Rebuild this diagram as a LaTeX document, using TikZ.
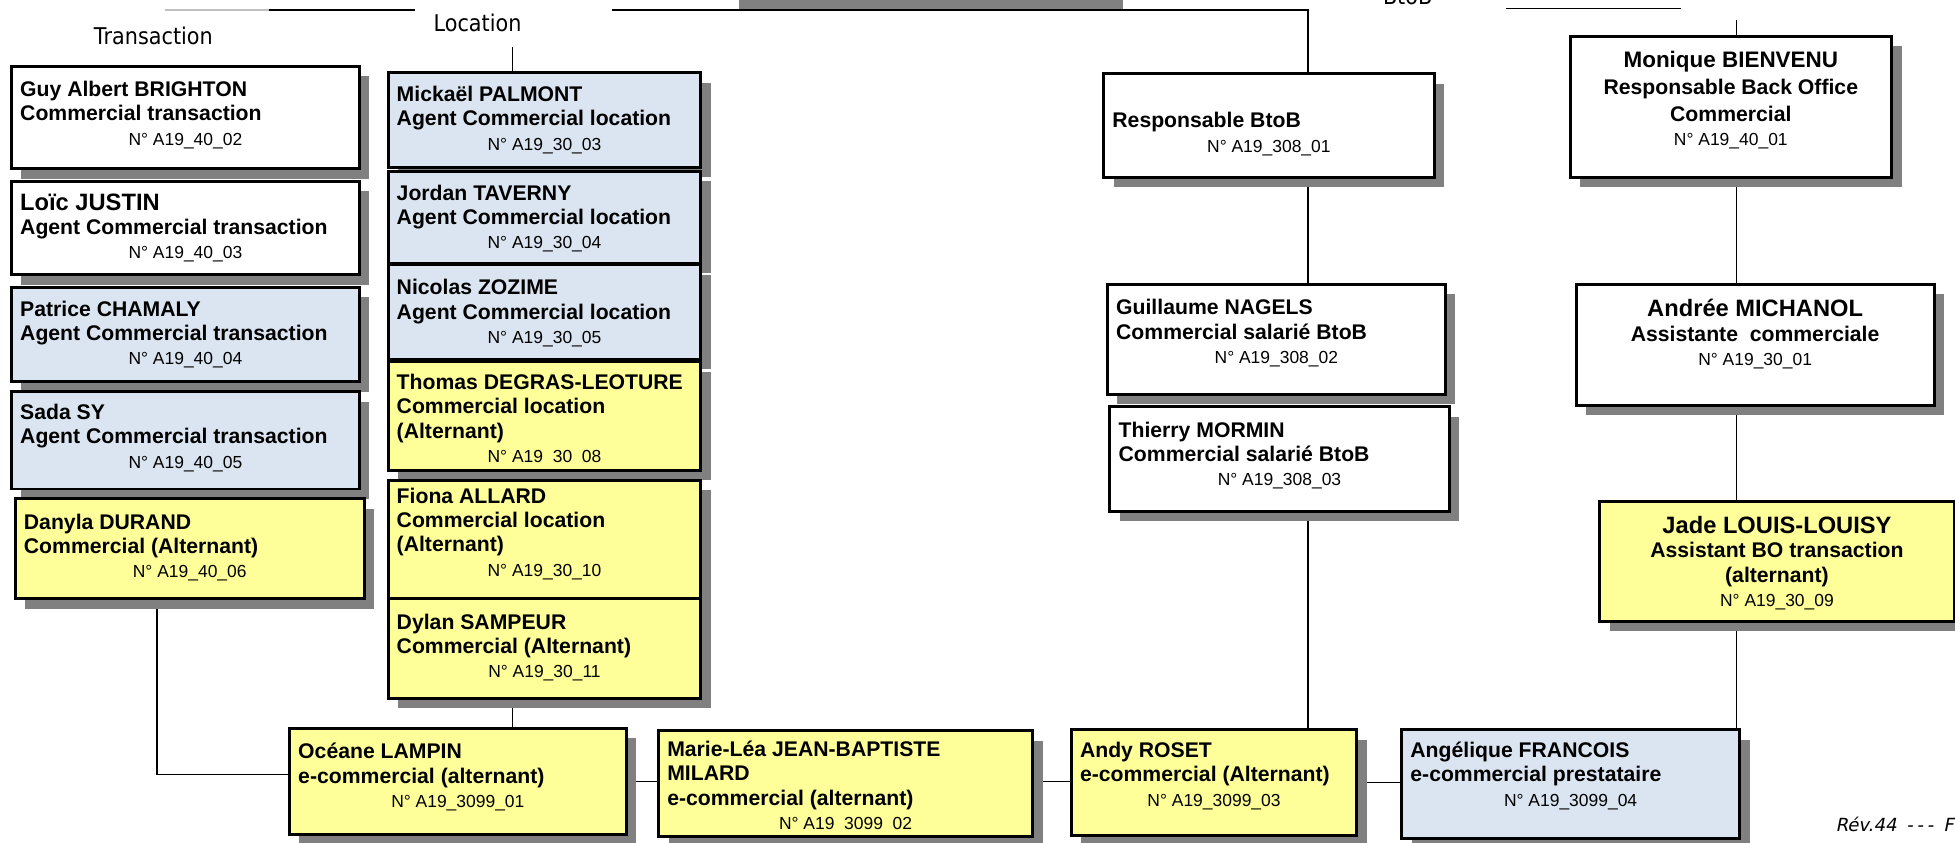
\documentclass[tikz,border=0pt]{standalone}
\usepackage{fontspec}
\setmainfont{Liberation Sans}
\newfontfamily\headfont[FakeStretch=0.9]{DejaVu Sans}
\newfontfamily\footfont[FakeSlant=0.2]{DejaVu Sans}
\usetikzlibrary{shadows,backgrounds}
\definecolor{agentblue}{HTML}{DBE5F1}
\definecolor{altyellow}{HTML}{FFFF99}
\definecolor{shadowgray}{HTML}{808080}
\newcommand{\cardtext}[4][12pt]{\parbox[c][#3][t]{#2}{\vspace*{#1}\leftskip7pt\rightskip7pt plus1fil\bfseries\fontsize{17}{19.5}\selectfont#4}}
\newcommand{\cardmid}[4][12pt]{\parbox[c][#3][t]{#2}{\vspace*{#1}\centering\bfseries\fontsize{17}{19.5}\selectfont#4}}
\newcommand{\who}[1]{{\fontsize{19}{19.5}\selectfont#1}}
\newcommand{\idno}[1]{\\\hspace*{\fill}{\mdseries\fontsize{14}{19.5}\selectfont#1}\hspace*{\fill}}
\tikzset{
  card/.style={draw, line width=2.4pt, anchor=north west, inner sep=0pt,
    drop shadow={shadow xshift=8pt, shadow yshift=-8pt, fill=shadowgray, opacity=1}},
  whitecard/.style={card, fill=white},
  bluecard/.style={card, fill=agentblue},
  yellowcard/.style={card, fill=altyellow},
  link/.style={line width=1pt},
  head/.style={font=\headfont\fontsize{18.5}{20}\selectfont, inner sep=0pt, anchor=base}
}
\begin{document}
\begin{tikzpicture}[x=1pt,y=-1pt]
  \useasboundingbox (0,0) rectangle (1568,676);
  \clip (0,0) rectangle (1568,676);
  \fill[shadowgray] (593,0) rectangle (901,7);
  \coordinate (g1) at (132,8);
  \coordinate (g2) at (216,8);
  \coordinate (g3) at (333,8);
  \coordinate (m1) at (491,8);
  \coordinate (btob) at (1049,8);
  \coordinate (r1) at (1208,7);
  \coordinate (r2) at (1348,7);
  \coordinate (loc) at (411,38);
  \coordinate (bo) at (1393,16);
  \coordinate (tr) at (126,621);

  \node[head] (trhead) at (123,36) {Transaction};
  \node[head] (lochead) at (383,25) {Location};
  \node[head] (btobhead) at (1129,4) {BtoB};

  \node[whitecard] (guy) at (8,52) {\cardtext{279pt}{82pt}{Guy Albert BRIGHTON\\Commercial transaction\idno{N° A19\_40\_02}}};
  \node[whitecard] (loic) at (8,144) {\cardtext[10pt]{279pt}{75pt}{\who{Loïc JUSTIN}\\Agent Commercial transaction\idno{N° A19\_40\_03}}};
  \node[bluecard] (patr) at (8,229) {\cardtext[11pt]{279pt}{76pt}{Patrice CHAMALY\\Agent Commercial transaction\idno{N° A19\_40\_04}}};
  \node[bluecard] (sada) at (8,313) {\cardtext[10pt]{279pt}{78pt}{Sada SY\\Agent Commercial transaction\idno{N° A19\_40\_05}}};
  \node[yellowcard] (dany) at (11,399) {\cardtext{280pt}{80pt}{Danyla DURAND\\Commercial (Alternant)\idno{N° A19\_40\_06}}};

  \node[bluecard] (mick) at (310,57) {\cardtext[11pt]{251pt}{76pt}{Mickaël PALMONT\\Agent Commercial location\idno{N° A19\_30\_03}}};
  \node[bluecard] (jord) at (310,136) {\cardtext[11pt]{251pt}{74pt}{Jordan TAVERNY\\Agent Commercial location\idno{N° A19\_30\_04}}};
  \node[bluecard] (nico) at (310,211) {\cardtext{251pt}{76pt}{Nicolas ZOZIME\\Agent Commercial location\idno{N° A19\_30\_05}}};
  \node[yellowcard] (thom) at (310,289) {\cardtext[10pt]{251pt}{87pt}{Thomas DEGRAS-LEOTURE\\Commercial location\\(Alternant)\idno{N° A19\ \ 30\ \ 08}}};
  \node[yellowcard] (fiona) at (310,384) {\cardtext[6pt]{251pt}{95pt}{Fiona ALLARD\\Commercial location\\(Alternant)\idno{N° A19\_30\_10}}};
  \node[yellowcard] (dylan) at (310,479) {\cardtext{251pt}{80pt}{Dylan SAMPEUR\\Commercial (Alternant)\idno{N° A19\_30\_11}}};

  \node[whitecard] (resp) at (884,58) {\cardtext[31pt]{265pt}{83pt}{Responsable BtoB\idno{N° A19\_308\_01}}};
  \node[whitecard] (guill) at (887,227) {\cardtext{271pt}{88pt}{Guillaume NAGELS\\Commercial salarié BtoB\idno{N° A19\_308\_02}}};
  \node[whitecard] (thier) at (889,325) {\cardtext{272pt}{84pt}{Thierry MORMIN\\Commercial salarié BtoB\idno{N° A19\_308\_03}}};

  \node[whitecard] (moni) at (1258,28) {\cardmid{258pt}{113pt}{{\fontsize{18}{19.5}\selectfont Monique BIENVENU}\\[2pt]Responsable Back Office\\[2pt]Commercial\idno{N° A19\_40\_01}}};
  \node[whitecard] (andr) at (1263,227) {\cardmid{287pt}{97pt}{\who{Andrée MICHANOL}\\Assistante~ commerciale\idno{N° A19\_30\_01}}};
  \node[yellowcard] (jade) at (1282,401) {\cardmid{284pt}{96pt}{\who{Jade LOUIS-LOUISY}\\Assistant BO transaction\\(alternant)\idno{N° A19\_30\_09}}};

  \node[yellowcard] (ocean) at (231,583) {\cardtext{270pt}{85pt}{Océane LAMPIN\\e-commercial (alternant)\idno{N° A19\_3099\_01}}};
  \node[yellowcard] (marie) at (527,585) {\cardtext[8pt]{300pt}{85pt}{Marie-Léa JEAN-BAPTISTE\\MILARD\\e-commercial (alternant)\idno{N° A19\ \ 3099\ \ 02}}};
  \node[yellowcard] (andy) at (858,584) {\cardtext[10pt]{229pt}{85pt}{Andy ROSET\\e-commercial (Alternant)\idno{N° A19\_3099\_03}}};
  \node[bluecard] (ange) at (1123,584) {\cardtext[10pt]{271pt}{87pt}{Angélique FRANCOIS\\e-commercial prestataire\idno{N° A19\_3099\_04}}};

  \node[font=\footfont\fontsize{14.5}{16}\selectfont, anchor=base west, inner sep=0pt] (rev) at (1472,667) {Rév.44\hspace{8pt}-\hspace{3pt}-\hspace{3pt}-\hspace{8pt}F};

  \begin{scope}[on background layer]
    \draw[link, gray!50] (g1) -- (g2);
    \draw[link] (g2) -- (g3);
    \draw[link] (m1) -- (btob) -- (resp.north -| btob);
    \draw[link] (r1) -- (r2);
    \draw[link] (loc) -- (mick.north -| loc);
    \draw[link] (bo) -- (moni.north -| bo);
    \draw[link] (resp.south -| btob) -- (guill.north -| btob);
    \draw[link] (thier.south -| btob) -- (andy.north -| btob);
    \draw[link] (moni.south -| bo) -- (andr.north -| bo);
    \draw[link] (andr.south -| bo) -- (jade.north -| bo);
    \draw[link] (jade.south -| bo) -- (ange.north -| bo);
    \draw[link] (dylan.south -| loc) -- (ocean.north -| loc);
    \draw[link] (dany.south -| tr) -- (tr) -- (ocean.west |- tr);
    \draw[link] (ocean.east) -- (marie.west |- ocean.east);
    \draw[link] (marie.east |- ocean.east) -- (andy.west |- ocean.east);
    \draw[link] (andy.east) -- (ange.west |- andy.east);
  \end{scope}
\end{tikzpicture}
\end{document}
